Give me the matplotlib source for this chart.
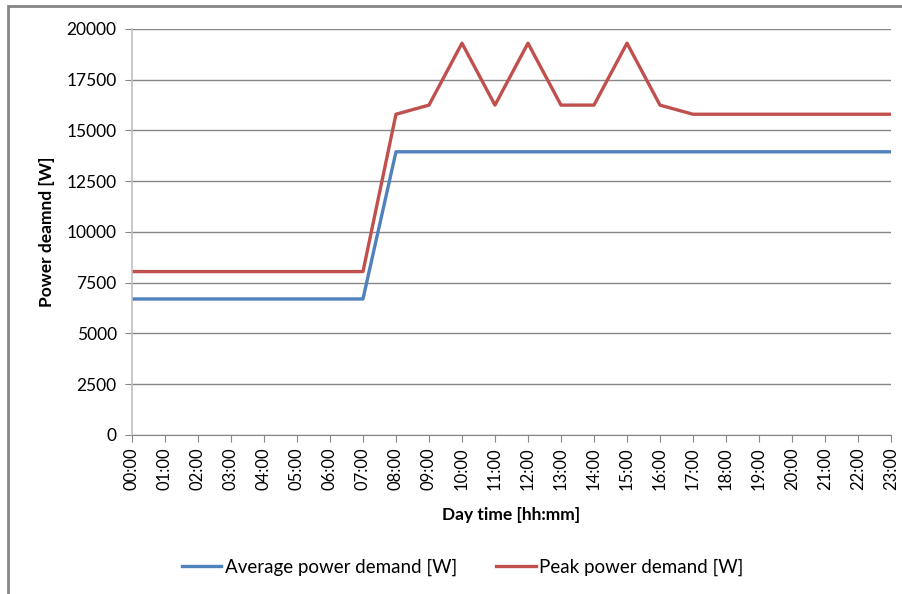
import numpy as np
import matplotlib
matplotlib.use("Agg")
import matplotlib.pyplot as plt
from matplotlib.patches import Rectangle

plt.rcParams['font.family'] = ['Lato', 'DejaVu Sans']

hours = ["%02d:00" % h for h in range(24)]
avg_demand = [6700] * 8 + [13950] * 16
peak_demand = [8050] * 8 + [15800, 16250, 19300, 16250, 19300, 16250, 16250, 19300, 16250] + [15800] * 7

fig = plt.figure(figsize=(9.02, 5.94), dpi=100)
ax = fig.add_axes([0.1463, 0.2677, 0.8415, 0.6835])

x = np.arange(len(hours))
ax.plot(x, avg_demand, color="#4F81BD", lw=2.4, label="Average power demand [W]")
ax.plot(x, peak_demand, color="#C0504D", lw=2.4, label="Peak power demand [W]")

ax.set_xlim(0, 23)
ax.set_ylim(0, 20000)
ax.set_yticks(np.arange(0, 20001, 2500))
ax.set_xticks(x)
ax.set_xticklabels(hours, rotation=90, fontsize=12)
ax.tick_params(axis="y", labelsize=12.5, length=5, color="#868686", pad=6)
ax.tick_params(axis="x", length=5, color="#868686", pad=4)
ax.grid(axis="y", color="#868686", lw=1)
ax.set_axisbelow(True)

for s in ["top", "right"]:
    ax.spines[s].set_visible(False)
ax.spines["left"].set_color("#bfbfbf")
ax.spines["left"].set_linewidth(1.2)
ax.spines["bottom"].set_color("#868686")

ax.set_xlabel("Day time [hh:mm]", fontsize=12.5, fontweight="bold", labelpad=12)
ax.set_ylabel("Power deamnd [W]", fontsize=12.5, fontweight="bold", labelpad=8)

fig.legend(loc="center", bbox_to_anchor=(0.513, 0.045), ncol=2, frameon=False,
           fontsize=13.5, handlelength=2.1, handletextpad=0.2, columnspacing=2.1)

# outer chart frame
fig.patches.append(Rectangle((8 / 902, -0.1), 1.2, 1 - 6 / 594 + 0.1,
                             transform=fig.transFigure, fill=False,
                             edgecolor="#868686", lw=2))

fig.savefig("out.png", dpi=100)
